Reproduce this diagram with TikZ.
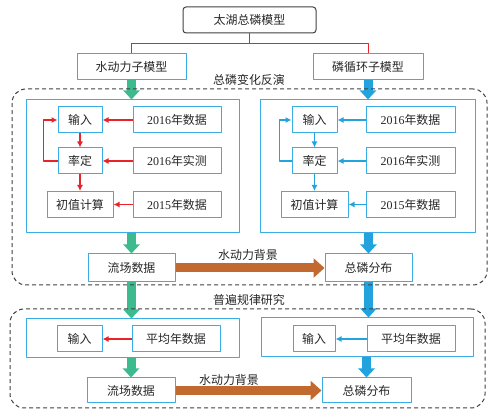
\documentclass[tikz,border=0pt]{standalone}
\usepackage{fontspec}
\setmainfont{Liberation Serif}
\newfontfamily\cjk{Noto Sans CJK SC}
\usetikzlibrary{arrows.meta}
\definecolor{boxblue}{HTML}{3AAEE4}
\definecolor{arrred}{HTML}{E8242B}
\definecolor{arrblue}{HTML}{22A3DD}
\definecolor{arrgreen}{HTML}{3DBB8F}
\definecolor{arrbrown}{HTML}{C2692F}
\newcommand\yrnum[1]{{\rmfamily #1}}
\tikzset{
  box/.style={draw=boxblue,line width=1bp,minimum height=26bp,inner sep=0pt,font=\cjk\fontsize{12}{14}\selectfont,text=black!85},
  frame/.style={draw=boxblue,line width=1bp,inner sep=0pt},
  zone/.style={draw=black!75,dash pattern=on 4bp off 3bp,line width=1bp,rounded corners=14bp,inner sep=0pt},
  lbl/.style={font=\cjk\fontsize{12}{14}\selectfont,text=black!85},
  thin/.style={-{Latex[length=6bp,width=6bp]},line width=1.9bp},
  fat/.style={-{Triangle[length=9bp,width=16bp]},line width=9bp},
  wide/.style={-{Triangle[length=11bp,width=19bp]},line width=9bp,arrbrown},
}
\begin{document}
\begin{tikzpicture}[line join=bevel]
\useasboundingbox (0,0) rectangle (498bp,414bp);
%%
\node (node_top) at (249.5bp,394bp) [box,draw=black!75,rounded corners=3bp,minimum width=133bp] {太湖总磷模型};
\node (node_hydro) at (131.5bp,347bp) [box,minimum width=109bp] {水动力子模型};
\node (node_phos) at (368bp,347bp) [box,minimum width=110bp] {磷循环子模型};
\draw [arrred,line width=0.8bp] (node_top.south) -- ++(0,-10bp) -| (node_hydro.north);
\draw [arrred,line width=0.8bp] (node_top.south) -- ++(0,-10bp) -| (node_phos.north);
\node (node_lbl_inv) at (249bp,334bp) [lbl] {总磷变化反演};
%
\node (node_frameL1) at (132.5bp,247.5bp) [frame,minimum width=213bp,minimum height=133bp] {};
\node (node_in_L) at (80bp,294bp) [box,minimum width=44bp] {输入};
\node (node_d16_L) at (177bp,294bp) [box,minimum width=88bp] {\yrnum{2016}年数据};
\node (node_cal_L) at (80bp,253bp) [box,minimum width=44bp] {率定};
\node (node_m16_L) at (177bp,253bp) [box,minimum width=88bp] {\yrnum{2016}年实测};
\node (node_init_L) at (80bp,209.5bp) [box,minimum width=66bp] {初值计算};
\node (node_d15_L) at (177bp,209.5bp) [box,minimum width=88bp] {\yrnum{2015}年数据};
\draw [thin,arrred] (node_d16_L) -- (node_in_L);
\draw [thin,arrred] (node_m16_L) -- (node_cal_L);
\draw [thin,arrred] (node_d15_L) -- (node_init_L);
\draw [thin,arrred] (node_in_L) -- (node_cal_L);
\draw [thin,arrred] (node_cal_L) -- (node_init_L);
\draw [thin,arrred] (node_cal_L.west) -- ++(-14bp,0) |- (node_in_L.west);
%
\node (node_frameR1) at (367.5bp,247.5bp) [frame,minimum width=215bp,minimum height=133bp] {};
\node (node_in_R) at (314.5bp,294bp) [box,minimum width=45bp] {输入};
\node (node_d16_R) at (410.5bp,294bp) [box,minimum width=89bp] {\yrnum{2016}年数据};
\node (node_cal_R) at (314.5bp,253bp) [box,minimum width=45bp] {率定};
\node (node_m16_R) at (410.5bp,253bp) [box,minimum width=89bp] {\yrnum{2016}年实测};
\node (node_init_R) at (314.5bp,209.5bp) [box,minimum width=67bp] {初值计算};
\node (node_d15_R) at (410.5bp,209.5bp) [box,minimum width=89bp] {\yrnum{2015}年数据};
\draw [thin,arrblue] (node_d16_R) -- (node_in_R);
\draw [thin,arrblue] (node_m16_R) -- (node_cal_R);
\draw [thin,arrblue] (node_d15_R) -- (node_init_R);
\draw [thin,arrblue] (node_in_R) -- (node_cal_R);
\draw [thin,arrblue] (node_cal_R) -- (node_init_R);
\draw [thin,arrblue] (node_cal_R.west) -- ++(-12bp,0) |- (node_in_R.west);
%
\node (node_flow1) at (131.5bp,146bp) [box,minimum width=87bp,minimum height=28bp] {流场数据};
\node (node_dist1) at (368.5bp,146bp) [box,minimum width=87bp,minimum height=28bp] {总磷分布};
\draw [wide] (node_flow1) -- (node_dist1);
\node (node_bg1) at (248bp,159bp) [lbl] {水动力背景};
%
\node (node_lbl_law) at (249bp,114bp) [lbl] {普遍规律研究};
\node (node_frameL2) at (132.5bp,75.5bp) [frame,minimum width=213bp,minimum height=39bp] {};
\node (node_in_L2) at (79.5bp,75bp) [box,minimum width=45bp] {输入};
\node (node_avg_L2) at (176bp,75bp) [box,minimum width=88bp] {平均年数据};
\draw [thin,arrred] (node_avg_L2) -- (node_in_L2);
\node (node_frameR2) at (367bp,76.5bp) [frame,minimum width=212bp,minimum height=39bp] {};
\node (node_in_R2) at (314bp,75bp) [box,minimum width=42bp] {输入};
\node (node_avg_R2) at (411bp,75bp) [box,minimum width=88bp] {平均年数据};
\draw [thin,arrblue] (node_avg_R2) -- (node_in_R2);
\node (node_flow2) at (131bp,23.5bp) [box,minimum width=88bp,minimum height=25bp] {流场数据};
\node (node_dist2) at (366.5bp,23.5bp) [box,minimum width=89bp,minimum height=25bp] {总磷分布};
\draw [wide] (node_flow2) -- (node_dist2);
\node (node_bg2) at (229bp,34bp) [lbl] {水动力背景};
%
\draw [fat,arrgreen] (node_hydro.south) -- (node_hydro.south |- node_frameL1.north);
\draw [fat,arrgreen] (node_flow1.north |- node_frameL1.south) -- (node_flow1.north);
\draw [fat,arrgreen] (node_flow1.south) -- (node_flow1.south |- node_frameL2.north);
\draw [fat,arrgreen] (node_flow2.north |- node_frameL2.south) -- (node_flow2.north);
\draw [fat,arrblue] (node_phos.south) -- (node_phos.south |- node_frameR1.north);
\draw [fat,arrblue] (node_dist1.north |- node_frameR1.south) -- (node_dist1.north);
\draw [fat,arrblue] (node_dist1.south) -- (node_dist1.south |- node_frameR2.north);
\draw [fat,arrblue] (node_dist2.north |- node_frameR2.south) -- (node_dist2.north);
%
\node (node_zone1) at (249.5bp,227bp) [zone,minimum width=475bp,minimum height=196bp] {};
\node (node_zone2) at (247.5bp,55.5bp) [zone,minimum width=475bp,minimum height=99bp] {};
%
\end{tikzpicture}
\end{document}
